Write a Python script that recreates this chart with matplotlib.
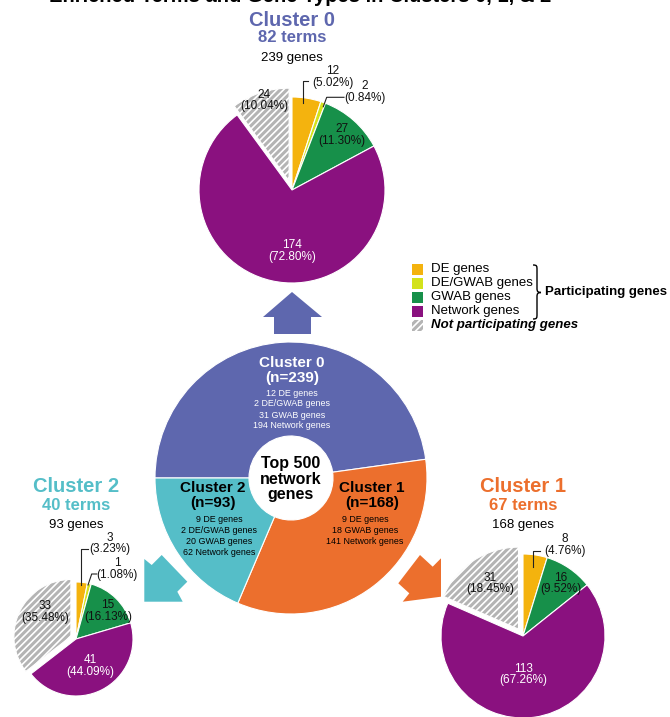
import matplotlib
matplotlib.use('Agg')
import matplotlib.pyplot as plt
from matplotlib.patches import Polygon, Rectangle, PathPatch
from matplotlib.path import Path

plt.rcParams['font.family'] = ['Liberation Sans', 'DejaVu Sans']
plt.rcParams['hatch.linewidth'] = 1.2

W, H = 670, 717

# ---------------- data ----------------
title = 'Enriched Terms and Gene Types in Clusters 0, 1, & 2'
gene_types = ['DE genes', 'DE/GWAB genes', 'GWAB genes', 'Network genes',
              'Not participating genes']
type_colors = ['#F4B30E', '#D3E21B', '#17904A', '#8A117F', '#B4B4B4']

cluster_names = ['Cluster 0', 'Cluster 1', 'Cluster 2']
cluster_sizes = [239, 168, 93]
cluster_terms = [82, 67, 40]
cluster_colors = ['#5E67AE', '#EC6F2D', '#55BEC8']

c0_counts = [12, 2, 27, 174, 24]
c1_counts = [8, 0, 16, 113, 31]
c2_counts = [3, 1, 15, 41, 33]

c0_breakdown = ['12 DE genes', '2 DE/GWAB genes', '31 GWAB genes', '194 Network genes']
c1_breakdown = ['9 DE genes', '18 GWAB genes', '141 Network genes']
c2_breakdown = ['9 DE genes', '2 DE/GWAB genes', '20 GWAB genes', '62 Network genes']
center_label = 'Top 500\nnetwork\ngenes'

# ---------------- figure ----------------
fig = plt.figure(figsize=(W / 100, H / 100), dpi=100)
ax = fig.add_axes([0, 0, 1, 1])


def Y(p):
    return H - p


def draw_pie(counts, cx, cy, r, label_xy, label_white, leaders):
    idx = [i for i, c in enumerate(counts) if c > 0]
    vals = [counts[i] for i in idx]
    cols = [type_colors[i] for i in idx]
    explode = [0] * (len(vals) - 1) + [0.1 * r]
    wedges, _ = ax.pie(vals, colors=cols, startangle=90, counterclock=False,
                       center=(cx, Y(cy)), radius=r, explode=explode,
                       wedgeprops=dict(edgecolor='white', linewidth=0.8))
    wedges[-1].set_hatch('/////')
    total = sum(counts)
    for i in idx:
        if i not in label_xy:
            continue
        lx, ly = label_xy[i]
        txt = f'{counts[i]}\n({counts[i] / total * 100:.2f}%)'
        ax.text(lx, Y(ly), txt, ha='center', va='center', fontsize=8.5,
                linespacing=0.9, color='white' if i in label_white else '#111111')
    for pts in leaders:
        ax.plot([p[0] for p in pts], [Y(p[1]) for p in pts], color='#222222', lw=0.8)


def header(cx, name, terms, genes, color, y0):
    ax.text(cx, Y(y0), name, ha='center', va='center', fontsize=14.5,
            fontweight='bold', color=color)
    ax.text(cx, Y(y0 + 18), f'{terms} terms', ha='center', va='center', fontsize=12,
            fontweight='bold', color=color)
    ax.text(cx, Y(y0 + 38), f'{genes} genes', ha='center', va='center', fontsize=9.5,
            color='black')


# title (cut off at top as in the reference)
ax.text(300, Y(2.5), title, ha='center', va='baseline', fontsize=14.5, fontweight='bold')

# ---- arrows ----
arrow_up = [(274, 334), (274, 317), (263, 317), (292, 292), (322, 317), (311, 317), (311, 334)]
arrow_left = [(144.3, 559), (151.7, 565), (161.7, 555), (187.3, 581.7), (177.3, 591.7),
              (182.7, 601.7), (144.3, 601.7)]
arrow_right = [(420, 555), (432.7, 566.7), (441, 558.3), (441, 596.7), (402.7, 601.7),
               (409.3, 593.3), (398.3, 583.3)]
for pts, col in [(arrow_up, cluster_colors[0]), (arrow_left, cluster_colors[2]),
                 (arrow_right, cluster_colors[1])]:
    ax.add_patch(Polygon([(x, Y(y)) for x, y in pts], closed=True, facecolor=col,
                         edgecolor='none'))

# ---- central donut ----
dcx, dcy, dr, dri = 291, 478, 136, 42
ax.pie(cluster_sizes, colors=cluster_colors, startangle=180, counterclock=False,
       center=(dcx, Y(dcy)), radius=dr,
       wedgeprops=dict(width=dr - dri, edgecolor='white', linewidth=0.8))
ax.text(dcx, Y(dcy + 1), center_label, ha='center', va='center', fontsize=11.5,
        fontweight='bold', linespacing=1.08)

# donut labels
ax.text(292, Y(363), cluster_names[0], ha='center', va='center', fontsize=11,
        fontweight='bold', color='white')
ax.text(292, Y(378), f'(n={cluster_sizes[0]})', ha='center', va='center', fontsize=11,
        fontweight='bold', color='white')
for k, s in enumerate(c0_breakdown):
    ax.text(292, Y(393 + 11 * k), s, ha='center', va='center', fontsize=6.4, color='white')

ax.text(213, Y(488), cluster_names[2], ha='center', va='center', fontsize=11,
        fontweight='bold', color='black')
ax.text(213, Y(503), f'(n={cluster_sizes[2]})', ha='center', va='center', fontsize=11,
        fontweight='bold', color='black')
for k, s in enumerate(c2_breakdown):
    ax.text(219, Y(520 + 10.7 * k), s, ha='center', va='center', fontsize=6.4, color='black')

ax.text(372, Y(488), cluster_names[1], ha='center', va='center', fontsize=11,
        fontweight='bold', color='black')
ax.text(372, Y(503), f'(n={cluster_sizes[1]})', ha='center', va='center', fontsize=11,
        fontweight='bold', color='black')
for k, s in enumerate(c1_breakdown):
    ax.text(365, Y(520 + 10.7 * k), s, ha='center', va='center', fontsize=6.4, color='black')

# ---- cluster 0 pie (top) ----
header(292, cluster_names[0], cluster_terms[0], cluster_sizes[0], cluster_colors[0], 20)
draw_pie(c0_counts, 292, 190, 93,
         {0: (333, 77), 1: (365, 92), 2: (342, 135), 3: (292, 251), 4: (264, 100.5)},
         {3},
         [[(308, 81), (303.3, 81), (303.3, 103)],
          [(344, 97.3), (326.7, 97.3), (323.3, 106.7)]])

# ---- cluster 2 pie (left) ----
header(76, cluster_names[2], cluster_terms[2], cluster_sizes[2], cluster_colors[2], 487)
draw_pie(c2_counts, 76, 639, 57,
         {0: (110, 543.5), 1: (117, 569), 2: (108, 611), 3: (90, 666), 4: (45, 612)},
         {3},
         [[(88, 549), (81, 549), (81, 585)],
          [(96.7, 574), (91.7, 574), (88, 585)]])

# ---- cluster 1 pie (right) ----
header(523, cluster_names[1], cluster_terms[1], cluster_sizes[1], cluster_colors[1], 487)
draw_pie(c1_counts, 523, 636, 82,
         {0: (565, 545), 2: (561, 583.5), 3: (523, 674.5), 4: (490, 583.5)},
         {3},
         [[(540, 550.7), (533.3, 550.7), (533.3, 566.7)]])

# ---- legend ----
leg_y = [269, 283, 297, 311, 325]
for k, (lab, col) in enumerate(zip(gene_types, type_colors)):
    rect = Rectangle((412, Y(leg_y[k] + 5.5)), 11, 11, facecolor=col, edgecolor='none')
    if k == 4:
        rect.set_edgecolor('white')
        rect.set_hatch('/////')
        rect.set_linewidth(0)
    ax.add_patch(rect)
    if k == 4:
        ax.text(431, Y(leg_y[k]), lab, ha='left', va='center', fontsize=9.5,
                fontweight='bold', fontstyle='italic')
    else:
        ax.text(431, Y(leg_y[k]), lab, ha='left', va='center', fontsize=9.5)

# brace
bx0, bx1, bx2 = 533, 537, 541
bt, bm, bb = 265, 292.5, 319
verts = [(bx0, bt), (bx1, bt), (bx1, bt + 1), (bx1, bt + 5),
         (bx1, bm - 4),
         (bx1, bm - 1), (bx1 + 1, bm), (bx2, bm),
         (bx1 + 1, bm), (bx1, bm + 1), (bx1, bm + 4),
         (bx1, bb - 5),
         (bx1, bb - 1), (bx1, bb), (bx0, bb)]
codes = [Path.MOVETO, Path.CURVE4, Path.CURVE4, Path.CURVE4,
         Path.LINETO,
         Path.CURVE4, Path.CURVE4, Path.CURVE4,
         Path.CURVE4, Path.CURVE4, Path.CURVE4,
         Path.LINETO,
         Path.CURVE4, Path.CURVE4, Path.CURVE4]
ax.add_patch(PathPatch(Path([(x, Y(y)) for x, y in verts], codes), facecolor='none',
                       edgecolor='black', lw=1.0))
ax.text(545, Y(292), 'Participating genes', ha='left', va='center', fontsize=9.5,
        fontweight='bold')

ax.set_xlim(0, W)
ax.set_ylim(0, H)
ax.set_aspect('auto')
ax.axis('off')
fig.savefig('out.png', dpi=100, facecolor='white')
